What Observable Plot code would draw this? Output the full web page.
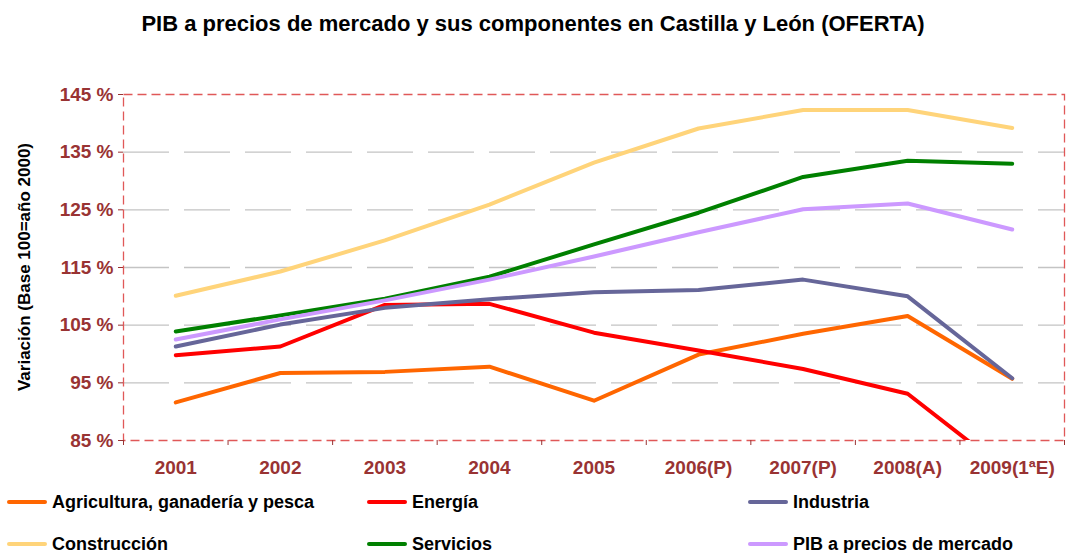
<!DOCTYPE html>
<html><head><meta charset="utf-8">
<script src="https://cdn.jsdelivr.net/npm/d3@7"></script>
<script src="https://cdn.jsdelivr.net/npm/@observablehq/plot@0.6"></script>
<style>
body{margin:0;background:#fff;font-family:"Liberation Sans",Arial,sans-serif;}
#wrap{position:relative;width:1066px;height:553px;overflow:hidden;}
#title{position:absolute;left:0;width:1066px;top:11px;text-align:center;font-weight:bold;font-size:22px;line-height:26px;}
#ylab{position:absolute;left:25px;top:267px;transform:translate(-50%,-50%) rotate(-90deg);white-space:nowrap;font-weight:bold;font-size:17px;}
#chart{position:absolute;left:0;top:0}
.leg{position:absolute;display:flex;align-items:center;font-weight:bold;font-size:18px;white-space:nowrap;height:22px;transform:translateY(-50%)}
.sw{width:40px;height:4px;border-radius:2px;margin-right:5px}
</style></head>
<body>
<div id="wrap">
<div id="chart"></div>
<div id="title">PIB a precios de mercado y sus componentes en Castilla y León (OFERTA)</div>
<div id="ylab">Variación (Base 100=año 2000)</div>
</div>
<script>
const years = ["2001","2002","2003","2004","2005","2006(P)","2007(P)","2008(A)","2009(1ªE)"];
const seriesNames = ["Agricultura, ganadería y pesca","Energía","Industria","Construcción","Servicios","PIB a precios de mercado"];
const seriesColors = ["#FF6600","#FF0000","#666699","#FFD47A","#008000","#CC99FF"];
const agricultura  = [91.6, 96.7, 96.9, 97.8, 91.9, 99.9, 103.5, 106.6, 95.7];
const energia      = [99.8, 101.3, 108.5, 108.7, 103.7, 100.6, 97.4, 93.1, 79.0];
const industria    = [101.3, 105.1, 108.0, 109.5, 110.7, 111.1, 112.9, 110.0, 95.8];
const construccion = [110.1, 114.3, 119.7, 125.9, 133.2, 139.1, 142.3, 142.3, 139.2];
const servicios    = [103.9, 106.7, 109.6, 113.4, 119.0, 124.5, 130.7, 133.5, 133.0];
const pib          = [102.5, 106.0, 109.3, 112.9, 116.9, 121.1, 125.1, 126.1, 121.6];
const yTicks = [85, 95, 105, 115, 125, 135, 145];
const gridTicks = [95, 105, 115, 125, 135];

const allValues = [agricultura, energia, industria, construccion, servicios, pib];
const idx = years.map((_, i) => i);
const boundaries = years.concat([""]).map((_, i) => i - 0.5);

const lineMarks = allValues.map((vals, s) =>
  Plot.line(vals.map((v, i) => ({i, v})), {x: "i", y: "v", stroke: seriesColors[s], strokeWidth: 4, clip: true, strokeLinejoin: "round", strokeLinecap: "round"})
);

const plot = Plot.plot({
  width: 1066, height: 480,
  marginTop: 94, marginBottom: 40, marginLeft: 123, marginRight: 2,
  x: {domain: [-0.5, years.length - 0.5]},
  y: {domain: [85, 145]},
  style: {fontFamily: "'Liberation Sans', Arial, sans-serif", fontWeight: "bold", background: "transparent", overflow: "visible"},
  marks: [
    Plot.ruleY(gridTicks, {stroke: "#c4c4c4", strokeWidth: 1.3, strokeDasharray: "46,15"}),
    ...lineMarks,
    Plot.frame({stroke: "#e05858", strokeWidth: 1.3, strokeDasharray: "9,5"}),
    Plot.axisY({ticks: yTicks, tickSize: 5, tickPadding: 5, tickFormat: d => d + " %", color: "#993333", fontSize: 19, label: null}),
    Plot.axisX({ticks: boundaries, tickSize: 5, tickFormat: () => "", color: "#993333", label: null}),
    Plot.axisX({ticks: idx, tickSize: 0, tickPadding: 20, tickFormat: i => years[i], color: "#993333", fontSize: 19, label: null})
  ]
});
document.getElementById("chart").appendChild(plot);

const legPos = [[7, 502], [367, 502], [748, 502], [7, 544], [367, 544], [748, 544]];
const wrap = document.getElementById("wrap");
seriesNames.forEach((name, s) => {
  const d = document.createElement("div");
  d.className = "leg";
  d.style.left = legPos[s][0] + "px";
  d.style.top = legPos[s][1] + "px";
  d.innerHTML = `<div class="sw" style="background:${seriesColors[s]}"></div><span>${name}</span>`;
  wrap.appendChild(d);
});
</script>
</body></html>
